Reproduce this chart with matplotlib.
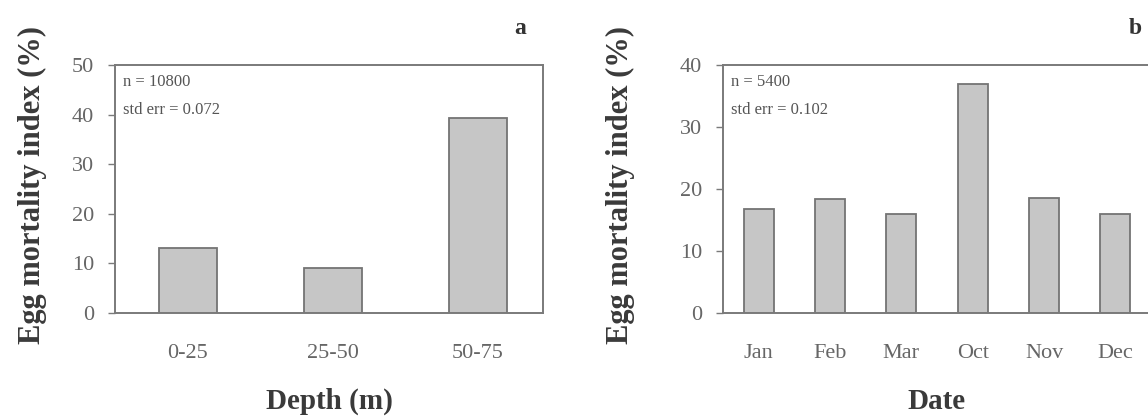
import matplotlib
matplotlib.use("Agg")
import matplotlib.pyplot as plt

# Egg mortality index by depth stratum
depth_labels = ["0-25", "25-50", "50-75"]
depth_values = [13.1, 9.1, 39.3]

# Egg mortality index by sampling month
month_labels = ["Jan", "Feb", "Mar", "Oct", "Nov", "Dec"]
month_values = [16.8, 18.4, 15.9, 37.0, 18.6, 16.0]

depth_stats = ["n = 10800", "std err = 0.072"]
month_stats = ["n = 5400", "std err = 0.102"]

plt.rcParams["font.family"] = ["Liberation Serif", "DejaVu Serif"]

W, H = 1148, 418
fig = plt.figure(figsize=(W / 100, H / 100), dpi=100)

BAR_FACE = "#c6c6c6"
BAR_EDGE = "#747474"
SPINE = "#7a7a7a"
TICK_TXT = "#666666"
LABEL_TXT = "#3a3a3a"


def panel(rect, labels, values, ymax, xlim, width, stats, letter, xlabel,
          ylabel_x, letter_x):
    ax = fig.add_axes(rect)
    x = range(len(labels))
    ax.bar(x, values, width=width, color=BAR_FACE, edgecolor=BAR_EDGE,
           linewidth=1.3, zorder=2)
    ax.set_xlim(*xlim)
    ax.set_ylim(0, ymax)
    ax.set_yticks(range(0, ymax + 1, 10))
    ax.set_xticks(list(x))
    ax.set_xticklabels(labels)
    for s in ax.spines.values():
        s.set_color(SPINE)
        s.set_linewidth(1.4)
    ax.tick_params(axis="y", direction="out", length=5, width=1.0,
                   color=SPINE, pad=10, labelsize=16, labelcolor=TICK_TXT)
    ax.tick_params(axis="x", length=0, pad=22, labelsize=16,
                   labelcolor=TICK_TXT)
    ax.text(0.018, 0.93, stats[0], transform=ax.transAxes, fontsize=12,
            color="#555555", va="center", ha="left")
    ax.text(0.018, 0.82, stats[1], transform=ax.transAxes, fontsize=12,
            color="#555555", va="center", ha="left")
    ax.set_xlabel(xlabel, fontsize=21, fontweight="bold", color=LABEL_TXT,
                  labelpad=18)
    fig.text(ylabel_x, (H - 185) / H, "Egg mortality index (%)",
             rotation=90, fontsize=22, fontweight="bold", color=LABEL_TXT,
             ha="center", va="center")
    fig.text(letter_x, (H - 28) / H, letter, fontsize=17, fontweight="bold",
             color="#333333", ha="center", va="center")
    return ax


ax_h = (313 - 65) / H
ax_w = 428 / W
panel([115 / W, (H - 313) / H, ax_w, ax_h], depth_labels, depth_values, 50,
      (-0.5, 2.45), 0.4, depth_stats, "a", "Depth (m)", 32 / W, 520 / W)
panel([723 / W, (H - 313) / H, ax_w, ax_h], month_labels, month_values, 40,
      (-0.5, 5.5), 0.42, month_stats, "b", "Date", 620 / W, 1135 / W)

fig.savefig("out.png", dpi=100, facecolor="white")
